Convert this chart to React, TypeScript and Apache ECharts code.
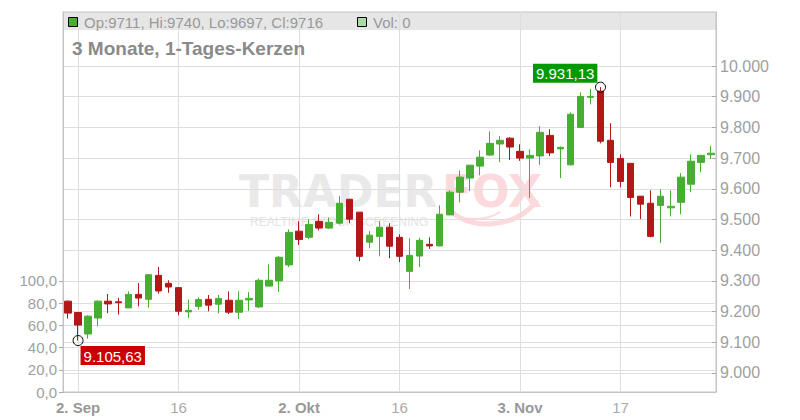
import React, { useEffect, useRef } from "react";
import * as echarts from "echarts";

// ---- data ----
const DATES = [
  "2025-09-01", "2025-09-02", "2025-09-03", "2025-09-04", "2025-09-05",
  "2025-09-08", "2025-09-09", "2025-09-10", "2025-09-11", "2025-09-12",
  "2025-09-15", "2025-09-16", "2025-09-17", "2025-09-18", "2025-09-19",
  "2025-09-22", "2025-09-23", "2025-09-24", "2025-09-25", "2025-09-26",
  "2025-09-29", "2025-09-30",
  "2025-10-01", "2025-10-02", "2025-10-03", "2025-10-06", "2025-10-07",
  "2025-10-08", "2025-10-09", "2025-10-10", "2025-10-13", "2025-10-14",
  "2025-10-15", "2025-10-16", "2025-10-17", "2025-10-20", "2025-10-21",
  "2025-10-22", "2025-10-23", "2025-10-24", "2025-10-27", "2025-10-28",
  "2025-10-29", "2025-10-30", "2025-10-31",
  "2025-11-03", "2025-11-04", "2025-11-05", "2025-11-06", "2025-11-07",
  "2025-11-10", "2025-11-11", "2025-11-12", "2025-11-13", "2025-11-14",
  "2025-11-17", "2025-11-18", "2025-11-19", "2025-11-20", "2025-11-21",
  "2025-11-24", "2025-11-25", "2025-11-26", "2025-11-27", "2025-11-28",
];

const OPEN = [
  9234, 9197, 9127, 9179, 9234, 9232, 9212, 9256, 9240, 9318,
  9292, 9278, 9199, 9217, 9240, 9224, 9237, 9198, 9238, 9215,
  9283, 9300, 9352, 9462, 9442, 9494, 9472, 9488, 9566, 9524,
  9426, 9445, 9475, 9442, 9331, 9381, 9419, 9414, 9515, 9589,
  9635, 9674, 9710, 9746, 9765, 9722, 9700, 9707, 9774, 9730,
  9678, 9800, 9898, 9918, 9758, 9699, 9683, 9576, 9553, 9546,
  9538, 9556, 9615, 9686, 9711,
];
const CLOSE = [
  9195, 9156, 9185, 9234, 9225, 9229, 9256, 9244, 9320, 9267,
  9280, 9201, 9204, 9239, 9221, 9243, 9198, 9237, 9243, 9302,
  9302, 9377, 9458, 9435, 9484, 9472, 9491, 9553, 9501, 9380,
  9449, 9475, 9413, 9380, 9383, 9432, 9414, 9517, 9589, 9638,
  9677, 9703, 9748, 9758, 9736, 9700, 9709, 9784, 9717, 9735,
  9843, 9901, 9901, 9755, 9686, 9624, 9572, 9550, 9445, 9576,
  9543, 9638, 9690, 9709, 9716,
];
const LOW = [
  9177, 9105.63, 9112, 9152, 9195, 9190, 9211, 9217, 9213, 9259,
  9261, 9188, 9179, 9206, 9201, 9194, 9192, 9176, 9202, 9212,
  9283, 9264, 9345, 9417, 9436, 9465, 9469, 9484, 9488, 9364,
  9406, 9380, 9374, 9361, 9274, 9345, 9404, 9413, 9514, 9556,
  9593, 9644, 9707, 9687, 9694, 9691, 9570, 9678, 9707, 9635,
  9677, 9800, 9875, 9748, 9605, 9605, 9510, 9501, 9442, 9423,
  9510, 9517, 9589, 9654, 9697,
];
const HIGH = [
  9236, 9198, 9188, 9237, 9257, 9245, 9266, 9293, 9322, 9345,
  9302, 9280, 9239, 9246, 9254, 9254, 9266, 9266, 9264, 9308,
  9354, 9381, 9468, 9494, 9501, 9517, 9507, 9576, 9566, 9524,
  9462, 9494, 9488, 9452, 9439, 9440, 9442, 9546, 9595, 9660,
  9677, 9725, 9787, 9772, 9768, 9745, 9729, 9804, 9794, 9738,
  9849, 9914, 9925, 9931.13, 9814, 9712, 9683, 9576, 9595, 9598,
  9595, 9651, 9712, 9709, 9740,
];
const LAST_VOLUME = 0;

const PRICE_TICKS = [9000, 9100, 9200, 9300, 9400, 9500, 9600, 9700, 9800, 9900, 10000];
const VOLUME_TICKS = [0, 20, 40, 60, 80, 100];

const X_LABELS: Record<string, string> = {
  "2025-09-02": "2. Sep",
  "2025-09-16": "16",
  "2025-10-02": "2. Okt",
  "2025-10-16": "16",
  "2025-11-03": "3. Nov",
  "2025-11-17": "17",
};
const MONTH_STARTS = ["2025-09-02", "2025-10-02", "2025-11-03"];
const TITLE = "3 Monate, 1-Tages-Kerzen";

// ---- styling ----
const FONT = "'Liberation Sans', Arial, sans-serif";
const GREEN = "#48ad33";
const RED = "#b31818";
const LABEL_GRAY = "#a0a0a0";
const GRID_LINE = "#dedede";
const BORDER = "#c4c4c4";
const WM_GRAY = "#e9e9e9";
const WM_PINK = "#fbd9dc";

function fmtDe(v: number, decimals: number): string {
  const fixed = v.toFixed(decimals);
  const parts = fixed.split(".");
  const intStr = parts[0].replace(/\B(?=(\d{3})+(?!\d))/g, ".");
  return parts[1] ? intStr + "," + parts[1] : intStr;
}

export default function App() {
  const ref = useRef<HTMLDivElement>(null);

  useEffect(() => {
    if (!ref.current) return;
    const chart = echarts.init(ref.current, undefined, { renderer: "svg" });

    const candles = DATES.map((_, i) => [OPEN[i], CLOSE[i], LOW[i], HIGH[i]]);
    let lowIdx = 0;
    let highIdx = 0;
    LOW.forEach((v, i) => { if (v < LOW[lowIdx]) lowIdx = i; });
    HIGH.forEach((v, i) => { if (v > HIGH[highIdx]) highIdx = i; });
    const last = DATES.length - 1;
    const legendText =
      "Op:" + OPEN[last] + ", Hi:" + HIGH[last] + ", Lo:" + LOW[last] + ", Cl:" + CLOSE[last];

    const option: any = {
      animation: false,
      textStyle: { fontFamily: FONT },
      grid: {
        left: 63, right: 84, top: 12, bottom: 28,
        show: true, borderColor: BORDER, borderWidth: 1,
        backgroundColor: "transparent",
      },
      xAxis: {
        type: "category",
        data: DATES,
        boundaryGap: true,
        axisLine: { show: true, lineStyle: { color: BORDER } },
        axisTick: { show: false },
        axisLabel: {
          interval: (_i: number, v: string) => v in X_LABELS,
          formatter: (v: string) =>
            MONTH_STARTS.indexOf(v) >= 0 ? "{b|" + X_LABELS[v] + "}" : "{n|" + X_LABELS[v] + "}",
          margin: 8,
          rich: {
            b: { fontFamily: FONT, fontSize: 15, fontWeight: "bold", color: "#999999" },
            n: { fontFamily: FONT, fontSize: 15, color: "#aaaaaa" },
          },
        },
        splitLine: {
          show: true,
          alignWithLabel: true,
          interval: (_i: number, v: string) => v in X_LABELS,
          lineStyle: { color: GRID_LINE, width: 1 },
        },
      },
      yAxis: [
        {
          type: "value",
          position: "right",
          min: 8938,
          max: 10176,
          axisLine: { show: true, lineStyle: { color: BORDER } },
          axisTick: { show: true, inside: true, length: 4, customValues: PRICE_TICKS, lineStyle: { color: "#aaaaaa" } },
          axisLabel: {
            customValues: PRICE_TICKS,
            formatter: (v: number) => fmtDe(v, 0),
            color: LABEL_GRAY, fontSize: 16, margin: 4, fontFamily: FONT,
          },
          splitLine: { show: true, lineStyle: { color: GRID_LINE } },
        },
        {
          type: "value",
          position: "left",
          min: 0,
          max: 342.3,
          axisLine: { show: true, lineStyle: { color: BORDER } },
          axisTick: { show: true, inside: false, length: 4, customValues: VOLUME_TICKS, lineStyle: { color: "#aaaaaa" } },
          axisLabel: {
            customValues: VOLUME_TICKS,
            formatter: (v: number) => fmtDe(v, 1),
            color: LABEL_GRAY, fontSize: 15, margin: 6, fontFamily: FONT,
          },
          splitLine: { show: true, lineStyle: { color: GRID_LINE } },
        },
      ],
      graphic: [
        { type: "rect", z: -1, shape: { x: 63, y: 12, width: 653, height: 18 }, style: { fill: "#e6e6e6" } },
        { type: "rect", z: 10, shape: { x: 68.5, y: 17.5, width: 9, height: 9 }, style: { fill: GREEN, stroke: "#000", lineWidth: 1 } },
        { type: "text", z: 10, x: 84, y: 22, style: { text: legendText, fill: "#999999", font: "15px " + FONT, verticalAlign: "middle" } },
        { type: "rect", z: 10, shape: { x: 357.5, y: 17.5, width: 9, height: 9 }, style: { fill: "#a9dba4", stroke: "#000", lineWidth: 1 } },
        { type: "text", z: 10, x: 373, y: 22, style: { text: "Vol: " + LAST_VOLUME, fill: "#999999", font: "15px " + FONT, verticalAlign: "middle" } },
        { type: "text", z: 10, x: 72, y: 48, style: { text: TITLE, fill: "#8a8a8a", font: "bold 19px " + FONT, verticalAlign: "middle" } },
        {
          type: "group", z: -1,
          children: [
            { type: "bezierCurve", z: -1, shape: { x1: 447, y1: 206, cpx1: 462, cpy1: 230, cpx2: 515, cpy2: 232, x2: 537, y2: 200 }, style: { stroke: WM_PINK, lineWidth: 5, fill: "none" } },
            { type: "bezierCurve", z: -1, shape: { x1: 452, y1: 214, cpx1: 468, cpy1: 222, cpx2: 488, cpy2: 220, x2: 500, y2: 212 }, style: { stroke: WM_PINK, lineWidth: 2, fill: "none" } },
            { type: "text", z: -1, x: 239, y: 191, style: { text: "TRADER", fill: WM_GRAY, font: "bold 44px 'DejaVu Sans'", lineHeight: 32, verticalAlign: "middle" } },
            { type: "text", z: -1, x: 442, y: 191, style: { text: "FOX", fill: WM_PINK, font: "bold 44px 'DejaVu Sans'", lineHeight: 32, verticalAlign: "middle" } },
            { type: "text", z: -1, x: 250, y: 222, style: { text: "REALTIME STOCK SCREENING", fill: "#e3e3e3", font: "12px " + FONT, lineHeight: 12, verticalAlign: "middle" } },
          ],
        },
      ],
      series: [
        {
          type: "candlestick",
          yAxisIndex: 0,
          data: candles,
          barWidth: 7,
          itemStyle: { color: GREEN, color0: RED, borderColor: GREEN, borderColor0: RED, borderWidth: 1 },
          markPoint: {
            symbol: "circle",
            symbolSize: 10,
            itemStyle: { color: "rgba(0,0,0,0)", borderColor: "#000", borderWidth: 1 },
            label: {
              show: true,
              color: "#ffffff",
              fontSize: 15,
              fontFamily: FONT,
              lineHeight: 16,
              padding: [2, 3, 1, 3],
              align: "left",
              verticalAlign: "top",
              formatter: (p: any) => fmtDe(p.value, 2),
            },
            data: [
              {
                coord: [DATES[lowIdx], LOW[lowIdx]],
                value: LOW[lowIdx],
                label: { position: [8, 11], backgroundColor: "#cc0000" },
              },
              {
                coord: [DATES[highIdx], HIGH[highIdx]],
                value: HIGH[highIdx],
                label: { position: [-62, -18], backgroundColor: "#009a00" },
              },
            ],
          },
        },
      ],
    };

    chart.setOption(option);
    return () => chart.dispose();
  }, []);

  return (
    <div
      ref={ref}
      style={{ position: "absolute", left: 0, top: 0, width: 800, height: 420, background: "#fff" }}
    />
  );
}
